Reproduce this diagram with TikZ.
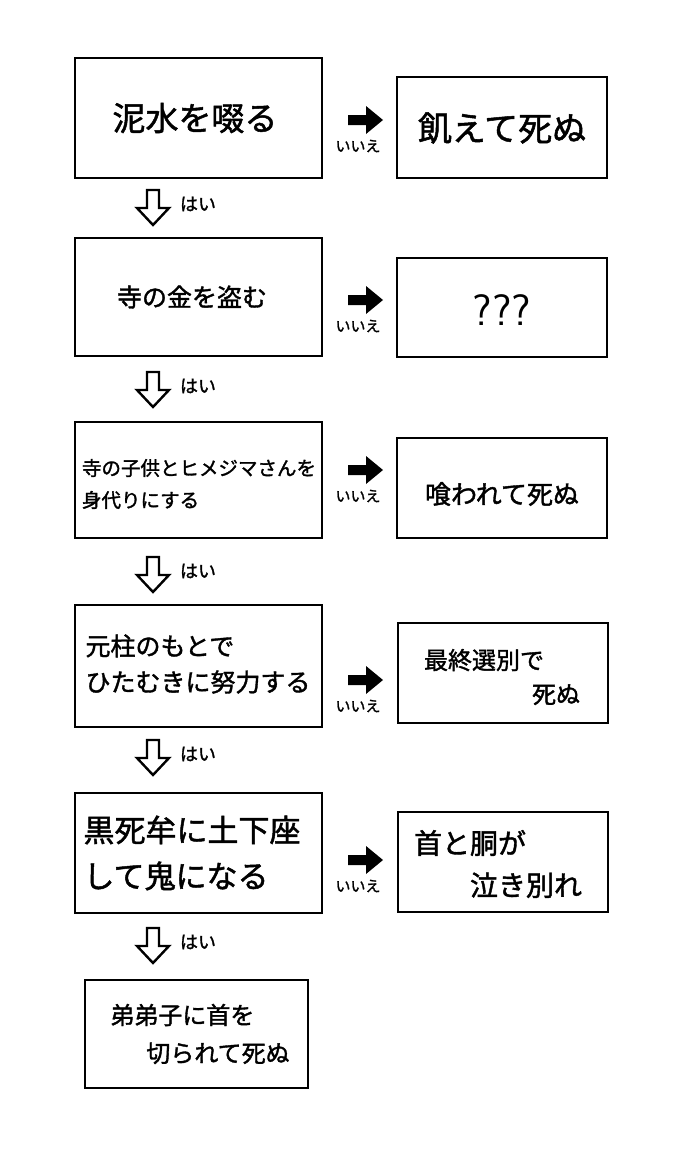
\documentclass[tikz,border=0pt]{standalone}
\usepackage{fontspec}
\newfontfamily\cjk{Noto Sans CJK JP}[FakeBold=1.5]
\begin{document}
\begin{tikzpicture}[x=1pt,y=-1pt,
 bx/.style={line width=2.6pt},
 lab/.style={font=\cjk\fontsize{15}{16}\selectfont}]
\useasboundingbox (0,0) rectangle (691,1151);
\fill[white] (0,0) rectangle (691,1151);
% left boxes
\draw[bx] (75,58) rectangle (322,178); \node[font=\cjk\fontsize{33}{34}\selectfont] (L1) at (195,118) {泥水を啜る};
\draw[bx] (75,238) rectangle (322,356); \node[font=\cjk\fontsize{25}{30}\selectfont] (L2) at (192,297) {寺の金を盗む};
\draw[bx] (75,422) rectangle (322,538); \node[font=\cjk\fontsize{19.5}{32}\selectfont,align=left] (L3) at (199,484) {寺の子供とヒメジマさんを\\身代りにする};
\draw[bx] (75,605) rectangle (322,727); \node[font=\cjk\fontsize{25}{36}\selectfont,align=left] (L4) at (198,664) {元柱のもとで\\ひたむきに努力する};
\draw[bx] (75,793) rectangle (322,913); \node[font=\cjk\fontsize{31}{46}\selectfont,align=left] (L5) at (192,853) {黒死牟に土下座\\して鬼になる};
\draw[bx] (85,980) rectangle (308,1088); \node[font=\cjk\fontsize{24}{38}\selectfont,align=left] (L6) at (200,1034) {弟弟子に首を\\\hspace*{1.5em}切られて死ぬ};
% right boxes
\draw[bx] (397,77) rectangle (607,178); \node[font=\cjk\fontsize{34}{30}\selectfont] (R1) at (502,128) {飢えて死ぬ};
\draw[bx] (397,258) rectangle (607,357); \node[font=\fontsize{44}{40}\selectfont\sffamily] (R2) at (502,310) {???};
\draw[bx] (397,438) rectangle (607,538); \node[font=\cjk\fontsize{26}{30}\selectfont] (R3) at (502,494) {喰われて死ぬ};
\draw[bx] (398,623) rectangle (608,723); \node[font=\cjk\fontsize{24}{34}\selectfont,align=left] (R4) at (502,677) {最終選別で\\\hspace*{4.5em}死ぬ};
\draw[bx] (398,812) rectangle (608,912); \node[font=\cjk\fontsize{28}{42}\selectfont,align=left] (R5) at (498,864) {首と胴が\\\hspace*{2em}泣き別れ};
% right arrows and labels
\foreach \y in {120,300,470,680,860}{
 \fill (348,\y-5) -- (366,\y-5) -- (366,\y-14) -- (383,\y) -- (366,\y+14) -- (366,\y+5) -- (348,\y+5) -- cycle;
 \node[lab] at (358,\y+26) {いいえ};
}
% down arrows and labels
\foreach \y in {190,372,557,740,928}{
 \draw[line width=2.4pt] (147,\y) -- (159,\y) -- (159,\y+18) -- (169,\y+18) -- (153,\y+35) -- (137,\y+18) -- (147,\y+18) -- cycle;
 \node[font=\cjk\fontsize{18}{18}\selectfont] at (198,\y+14) {はい};
}
\end{tikzpicture}
\end{document}
